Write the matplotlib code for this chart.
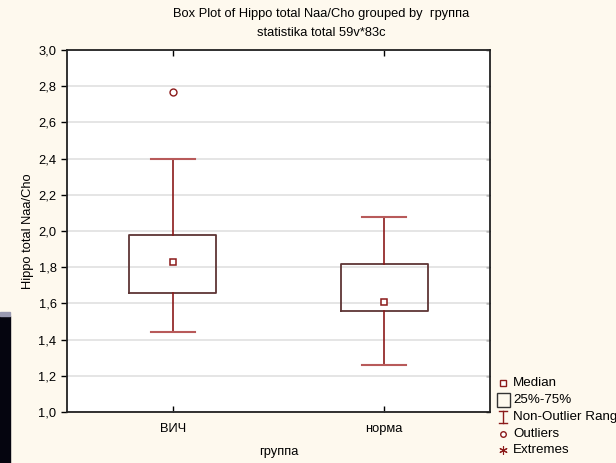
import numpy as np
import matplotlib.pyplot as plt
from matplotlib.patches import Rectangle
from matplotlib.lines import Line2D

plt.rcParams['font.family'] = ['Liberation Sans', 'DejaVu Sans']

groups = ['ВИЧ', 'норма']
medians = [1.83, 1.61]
q1 = [1.66, 1.56]
q3 = [1.98, 1.82]
whis_lo = [1.44, 1.26]
whis_hi = [2.40, 2.08]
outliers = [[2.77], []]

bg = '#fef9ee'
dark_red = '#8b1a1a'
box_col = '#5e3535'

fig = plt.figure(figsize=(6.16, 4.63), dpi=100, facecolor=bg)
ax = fig.add_axes([67/616, 1-412/463, 423/616, 362/463])
ax.set_facecolor('white')

pos = [0.5, 1.5]
stats = []
for i, g in enumerate(groups):
    stats.append({'label': g, 'med': medians[i], 'q1': q1[i], 'q3': q3[i],
                  'whislo': whis_lo[i], 'whishi': whis_hi[i], 'fliers': outliers[i]})

ax.bxp(stats, positions=pos, widths=0.41, capwidths=0.21,
       boxprops=dict(color=box_col, lw=1.3),
       whiskerprops=dict(color=dark_red, lw=1.2),
       capprops=dict(color='#b85a5a', lw=1.5),
       medianprops=dict(visible=False),
       flierprops=dict(marker='o', markersize=5, markerfacecolor='white',
                       markeredgecolor=dark_red, markeredgewidth=1))
ax.plot(pos, medians, 's', ms=5, mfc='white', mec=dark_red, mew=1.1, ls='none')

ax.set_xlim(0, 2)
ax.set_ylim(1.0, 3.0)
yt = np.arange(1.0, 3.01, 0.2)
ax.set_yticks(yt)
ax.set_yticklabels([('%.1f' % v).replace('.', ',') for v in yt], fontsize=9.3)
ax.set_xticks(pos)
ax.set_xticklabels(groups, fontsize=9.3)
ax.yaxis.grid(True, color='#e0e0e0', lw=1.2)
ax.set_axisbelow(True)
ax.tick_params(axis='y', which='major', left=True, direction='out', length=4, width=1)
ax.tick_params(axis='x', direction='in', length=4, width=1, top=True, bottom=True, pad=8)
# inward ticks on the right edge
ax2 = ax.secondary_yaxis('right')
ax2.set_yticks(yt)
ax2.tick_params(direction='in', length=3, width=1, labelright=False)
ax2.spines['right'].set_visible(False)
for s in ax.spines.values():
    s.set_linewidth(1.3)
    s.set_color('#222222')

ax.set_ylabel('Hippo total Naa/Cho', fontsize=9.3, labelpad=3)
ax.set_xlabel('группа', fontsize=9.3, labelpad=8)

fig.text(321/616, 1-14/463, 'Box Plot of Hippo total Naa/Cho grouped by  группа',
         ha='center', va='center', fontsize=9.3)
fig.text(321/616, 1-33/463, 'statistika total 59v*83c', ha='center', va='center', fontsize=9.3)

# legend
lx = 503/616
tx = 513/616
ys = [383, 400, 417, 434, 450]
labels = ['Median', '25%-75%', 'Non-Outlier Range', 'Outliers', 'Extremes']
tf = fig.transFigure
fig.add_artist(Line2D([lx], [1-ys[0]/463], transform=tf, marker='s', ms=5,
                      mfc='white', mec=dark_red, mew=1))
fig.add_artist(Rectangle((lx-6/616, 1-(ys[1]+7)/463), 13/616, 14/463,
                         transform=tf, fill=False, ec='#333333', lw=1))
fig.add_artist(Line2D([lx, lx], [1-(ys[2]-6)/463, 1-(ys[2]+6)/463], transform=tf, color=dark_red, lw=1))
fig.add_artist(Line2D([lx-4/616, lx+4/616], [1-(ys[2]-6)/463]*2, transform=tf, color=dark_red, lw=1))
fig.add_artist(Line2D([lx-4/616, lx+4/616], [1-(ys[2]+6)/463]*2, transform=tf, color=dark_red, lw=1))
fig.add_artist(Line2D([lx], [1-ys[3]/463], transform=tf, marker='o', ms=4,
                      mfc='white', mec=dark_red, mew=1))
fig.add_artist(Line2D([lx], [1-ys[4]/463], transform=tf, marker=(6, 2, 0), ms=6,
                      color=dark_red, mew=0.8))
for y, lab in zip(ys, labels):
    fig.text(tx, 1-y/463, lab, ha='left', va='center', fontsize=9.6)

# dark strip at left edge of screenshot
fig.add_artist(Rectangle((0, 0), 10/616, 147/463, transform=tf, color='#05050f'))
fig.add_artist(Rectangle((0, 147/463), 10/616, 4/463, transform=tf, color='#9a9ab0'))

fig.savefig('out.png', dpi=100, facecolor=bg)
